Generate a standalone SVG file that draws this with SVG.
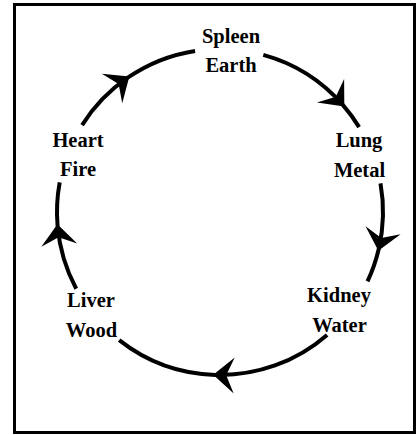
<svg xmlns="http://www.w3.org/2000/svg" width="416" height="435" viewBox="0 0 416 435">
  <style>
    .frame { fill: none; stroke: #000; stroke-width: 3; }
    .edge { fill: none; stroke: #000; stroke-width: 4; stroke-linecap: butt; marker-mid: url(#stealth); }
    .lbl { font-family: "Liberation Serif", "Times New Roman", serif; font-weight: bold; font-size: 20.5px; fill: #000; text-anchor: middle; }
  </style>
  <defs>
    <marker id="stealth" markerUnits="userSpaceOnUse" refX="0" refY="0" markerWidth="40" markerHeight="40" orient="auto" overflow="visible">
      <path d="M2,0 L-19,-18 L-11,0 L-19,18 Z" fill="#000"/>
    </marker>
  </defs>
  <rect class="frame" x="14.5" y="4.5" width="400" height="428"/>
  <g id="connectors">
    <path class="edge" d="M263.3,54.9 A163,163 0 0 1 343.0,105.1 A163,163 0 0 1 359.1,127.1"/>
    <path class="edge" d="M380.5,183.4 A163,163 0 0 1 378.8,248.7 A163,163 0 0 1 367.5,281.4"/>
    <path class="edge" d="M327.1,334.9 A163,163 0 0 1 215.2,374.9 A163,163 0 0 1 119.2,340.1"/>
    <path class="edge" d="M76.2,288.8 A163,163 0 0 1 57.6,226.2 A163,163 0 0 1 59.7,182.3"/>
    <path class="edge" d="M82.1,125.1 A163,163 0 0 1 127.7,77.7 A163,163 0 0 1 195.1,50.9"/>
  </g>
  <g id="spleen">
    <text class="lbl" x="231" y="42.5">Spleen</text>
    <text class="lbl" x="231" y="72">Earth</text>
  </g>
  <g id="lung">
    <text class="lbl" x="359" y="147">Lung</text>
    <text class="lbl" x="359.5" y="177">Metal</text>
  </g>
  <g id="kidney">
    <text class="lbl" x="339" y="302">Kidney</text>
    <text class="lbl" x="339.5" y="332">Water</text>
  </g>
  <g id="liver">
    <text class="lbl" x="91" y="307">Liver</text>
    <text class="lbl" x="91.5" y="337">Wood</text>
  </g>
  <g id="heart">
    <text class="lbl" x="78" y="147">Heart</text>
    <text class="lbl" x="78" y="176">Fire</text>
  </g>
</svg>
